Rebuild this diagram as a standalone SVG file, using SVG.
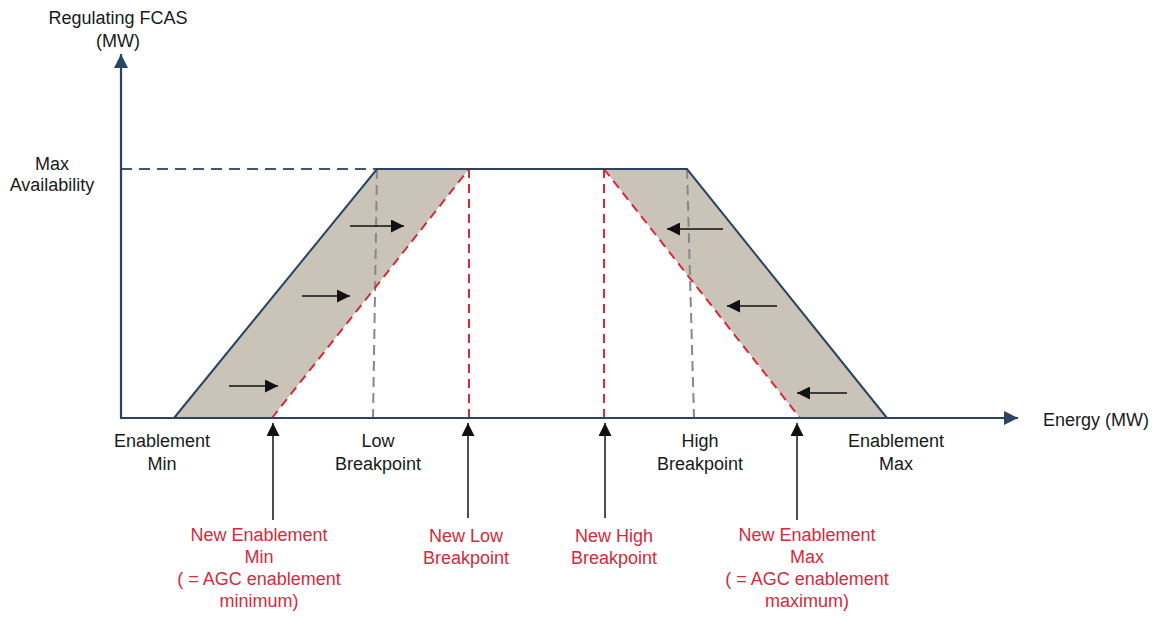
<svg xmlns="http://www.w3.org/2000/svg" width="1159" height="617" viewBox="0 0 1159 617">
<style>
text{font-family:"Liberation Sans",Arial,sans-serif;font-size:18px;text-anchor:middle;fill:#1a1a1a}
.red{fill:#d42a3c}
.axis{stroke:#2a4463;stroke-width:2.2;fill:none}
.solid{stroke:#2a4463;stroke-width:2;fill:none}
.band{fill:#c9c3b8;stroke:none}
.rdash{stroke:#d42a3c;stroke-width:2;stroke-dasharray:9 6;fill:none}
.gdash{stroke:#888;stroke-width:2;stroke-dasharray:10 6;fill:none}
.ndash{stroke:#3e5674;stroke-width:2;stroke-dasharray:11 7;fill:none}
.blk{stroke:#111;stroke-width:1.6;fill:none}
.ptr{stroke:#222;stroke-width:1.6;fill:none}
</style>
<defs>
<marker id="ah" viewBox="0 0 10 10" refX="10" refY="5" markerWidth="14" markerHeight="14" markerUnits="userSpaceOnUse" orient="auto"><path d="M0,0L10,5L0,10z" fill="#2a4463"/></marker>
<marker id="bh" viewBox="0 0 10 10" refX="10" refY="5" markerWidth="15" markerHeight="13" markerUnits="userSpaceOnUse" orient="auto"><path d="M0,0L10,5L0,10z" fill="#111"/></marker>
</defs>
<g id="bands">
<polygon class="band" points="174,418 377,169 469,169 272,418"/>
<polygon class="band" points="604,169 687,169 887,418 800,418"/>
</g>
<g id="guides">
<line class="ndash" x1="121" y1="169" x2="377" y2="169"/>
<line class="gdash" x1="377" y1="169" x2="373" y2="418"/>
<line class="gdash" x1="687" y1="169" x2="694" y2="418"/>
<line class="rdash" x1="469" y1="169" x2="469" y2="418"/>
<line class="rdash" x1="604" y1="169" x2="604" y2="418"/>
<line class="rdash" x1="272" y1="418" x2="469" y2="169"/>
<line class="rdash" x1="604" y1="169" x2="800" y2="418"/>
</g>
<g id="curve">
<polyline class="solid" points="174,418 377,169 687,169 887,418"/>
</g>
<g id="axes">
<line class="axis" x1="121" y1="419" x2="121" y2="54" marker-end="url(#ah)"/>
<line class="axis" x1="120" y1="418" x2="1018" y2="418" marker-end="url(#ah)"/>
</g>
<g id="connectors">
<line class="blk" x1="350" y1="226" x2="404" y2="226" marker-end="url(#bh)"/>
<line class="blk" x1="302" y1="296" x2="350" y2="296" marker-end="url(#bh)"/>
<line class="blk" x1="229" y1="386" x2="278" y2="386" marker-end="url(#bh)"/>
<line class="blk" x1="723" y1="229" x2="667" y2="229" marker-end="url(#bh)"/>
<line class="blk" x1="777" y1="306" x2="727" y2="306" marker-end="url(#bh)"/>
<line class="blk" x1="847" y1="393" x2="797" y2="393" marker-end="url(#bh)"/>
<line class="ptr" x1="273" y1="520" x2="273" y2="423" marker-end="url(#bh)"/>
<line class="ptr" x1="468" y1="518" x2="468" y2="423" marker-end="url(#bh)"/>
<line class="ptr" x1="605" y1="518" x2="605" y2="423" marker-end="url(#bh)"/>
<line class="ptr" x1="797" y1="520" x2="797" y2="423" marker-end="url(#bh)"/>
</g>
<g id="label-yaxis"><text x="118" y="24">Regulating FCAS</text><text x="118" y="47">(MW)</text></g>
<g id="label-maxavail"><text x="52" y="170">Max</text><text x="52" y="191">Availability</text></g>
<g id="label-xaxis"><text x="1096" y="426">Energy (MW)</text></g>
<g id="label-enmin"><text x="162" y="447">Enablement</text><text x="162" y="470">Min</text></g>
<g id="label-lowbp"><text x="378" y="447">Low</text><text x="378" y="470">Breakpoint</text></g>
<g id="label-highbp"><text x="700" y="447">High</text><text x="700" y="470">Breakpoint</text></g>
<g id="label-enmax"><text x="896" y="447">Enablement</text><text x="896" y="470">Max</text></g>
<g id="label-newenmin"><text class="red" x="259" y="541">New Enablement</text><text class="red" x="259" y="563">Min</text><text class="red" x="259" y="585">( = AGC enablement</text><text class="red" x="259" y="607">minimum)</text></g>
<g id="label-newlowbp"><text class="red" x="466" y="542">New Low</text><text class="red" x="466" y="564">Breakpoint</text></g>
<g id="label-newhighbp"><text class="red" x="614" y="542">New High</text><text class="red" x="614" y="564">Breakpoint</text></g>
<g id="label-newenmax"><text class="red" x="807" y="541">New Enablement</text><text class="red" x="807" y="563">Max</text><text class="red" x="807" y="585">( = AGC enablement</text><text class="red" x="807" y="607">maximum)</text></g>
</svg>
